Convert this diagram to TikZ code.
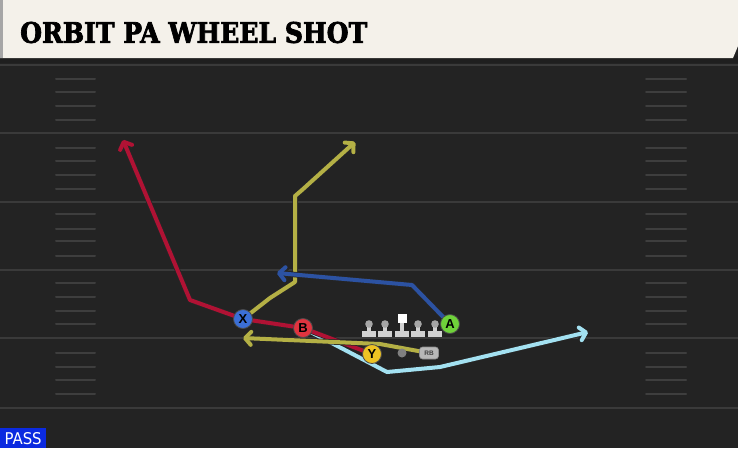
\documentclass[tikz,border=0pt]{standalone}
\usepackage{fontspec}
\usetikzlibrary{arrows.meta}
\newfontfamily\titlefont{DejaVu Serif Condensed Bold}[FakeBold=2.5]
\newfontfamily\lblfont{Liberation Sans}
\newfontfamily\passfont{DejaVu Sans Condensed}
\definecolor{fieldbg}{HTML}{232323}
\definecolor{yardln}{HTML}{3A3A3A}
\definecolor{hashln}{HTML}{3E3E3E}
\definecolor{cream}{HTML}{F4F1EA}
\definecolor{rtred}{HTML}{B01234}
\definecolor{rtyel}{HTML}{B4B045}
\definecolor{rtblue}{HTML}{2C52A2}
\definecolor{rtcyan}{HTML}{A3E1F1}
\definecolor{cX}{HTML}{3B6FD6}
\definecolor{cB}{HTML}{E0343F}
\definecolor{cY}{HTML}{EEC323}
\definecolor{cA}{HTML}{6FD23A}
\definecolor{passblue}{HTML}{0B2AE0}
\definecolor{olgrey}{HTML}{D2D2D2}
\pgfdeclarelayer{field}
\pgfdeclarelayer{routes}
\pgfsetlayers{field,routes,main}
\tikzset{
  route/.style={line width=4pt, line join=round, line cap=round,
    -{Straight Barb[length=6pt,width=13pt,line cap=round,line join=round]},
    preaction={draw=black!85, line width=5.5pt, -{Straight Barb[length=6pt,width=13pt]}}},
  player/.style={circle, minimum size=19pt, inner sep=0pt, draw=black!70, line width=0.8pt,
    font=\lblfont\bfseries\fontsize{13}{13}\selectfont, text=black},
  yard/.style={draw=yardln, line width=2pt},
  hashm/.style={draw=hashln, line width=2pt, line cap=round},
  lineman/.pic={
    \fill[olgrey] (-7,7) rectangle (7,13);
    \fill[olgrey] (-2,0) rectangle (2,8);
    \fill[black!35] (0,0) circle (3.8);
  },
  centerman/.pic={
    \fill[olgrey] (-7,7) rectangle (7,13);
    \fill[olgrey] (-2,-2) rectangle (2,8);
    \fill[white] (-4.5,-10) rectangle (4.5,-1);
  }
}
\begin{document}
\begin{tikzpicture}[x=1pt,y=-1pt]
\useasboundingbox (0,0) rectangle (738,448);
\begin{pgfonlayer}{field}
\fill[fieldbg] (0,0) rectangle (738,448);
\fill[black!88] (0,56) rectangle (738,63);
\fill[cream] (0,0) -- (738,0) -- (738,46) -- (733,58) -- (0,58) -- cycle;
\fill[black!35] (0,0) rectangle (3,58);
\foreach \y in {65,133,202,270,338,408} \draw[yard] (0,\y) -- (738,\y);
\foreach \y in {79,92,106,120,148,161,175,189,214,229,241,256,283,297,311,324,353,367,380,394} {
  \draw[hashm] (56,\y) -- (95,\y);
  \draw[hashm] (646,\y) -- (686,\y);
}
\end{pgfonlayer}
\node[anchor=west, inner sep=0pt, text=black] (title) at (20,32.5)
  {\resizebox{347pt}{21pt}{\titlefont ORBIT PA WHEEL SHOT}};
% players
\node[player, fill=cX] (X) at (243,319) {X};
\node[player, fill=cB] (B) at (303,328) {B};
\node[player, fill=cY] (Y) at (372,354) {Y};
\node[player, fill=cA] (A) at (450,324) {A};
\pic at (369,324) {lineman};
\pic at (385,324) {lineman};
\pic at (402,324) {centerman};
\pic at (418,324) {lineman};
\pic at (435,324) {lineman};
\node[circle, fill=black!50, minimum size=9pt, inner sep=0pt] (QB) at (402,353) {};
\node[rounded corners=3pt, fill=black!28, draw=black!45, line width=0.6pt, minimum width=19pt, minimum height=12pt, inner sep=0pt,
  font=\lblfont\bfseries\fontsize{6.5}{6.5}\selectfont, text=black!75] (RB) at (429,353) {RB};
% routes
\coordinate (r1) at (190,300);
\coordinate (r2) at (123,140);
\coordinate (y1) at (270,298);
\coordinate (y2) at (295,282);
\coordinate (y3) at (295,196);
\coordinate (y4) at (302,190);
\coordinate (y5) at (355,142);
\coordinate (b1) at (412,285);
\coordinate (b2) at (277,273);
\coordinate (c1) at (387,372);
\coordinate (c2) at (440,367);
\coordinate (c3) at (588,332);
\coordinate (g1) at (380,344);
\coordinate (g2) at (243,338);
\begin{pgfonlayer}{routes}
\draw[route, draw=rtyel] (X.center) -- (y1) -- (y2) -- (y3) -- (y4) -- (y5);
\draw[route, draw=rtblue] (A.center) -- (b1) -- (b2);
\draw[route, draw=rtcyan] (B.center) -- (c1) -- (c2) -- (c3);
\draw[route, draw=rtred] (Y.center) -- (B.center) -- (X.center) -- (r1) -- (r2);
\draw[route, draw=rtyel] (RB.center) -- (g1) -- (g2);
\end{pgfonlayer}
% pass label
\node[fill=passblue, anchor=north west, minimum width=46pt, minimum height=20pt, inner sep=0pt, text=white] (pass) at (0,428)
  {\resizebox{37pt}{12pt}{\passfont PASS}};
\end{tikzpicture}
\end{document}
